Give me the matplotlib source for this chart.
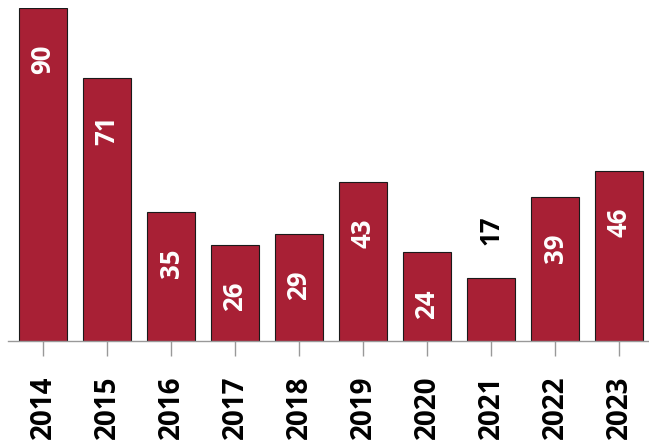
import matplotlib
matplotlib.use("Agg")
import matplotlib.pyplot as plt

years = ["2014", "2015", "2016", "2017", "2018", "2019", "2020", "2021", "2022", "2023"]
counts = [90, 71, 35, 26, 29, 43, 24, 17, 39, 46]
# short bars get their label above the bar instead of inside it
outside = ["2021"]

BAR_COLOR = "#A82035"
plt.rcParams["font.family"] = ["Open Sans", "DejaVu Sans"]

fig = plt.figure(figsize=(6.49, 4.42), dpi=100)
ax = fig.add_axes([7.8 / 649, 101 / 442, 10.02 * 64 / 649, 333 / 442])

x = list(range(len(years)))
ax.bar(x, counts, width=0.75, color=BAR_COLOR, edgecolor="#1a1a1a", linewidth=0.8, zorder=2)

for xi, yr, v in zip(x, years, counts):
    if yr in outside:
        ax.annotate(str(v), (xi, v), xytext=(0, 24), textcoords="offset points",
                    rotation=90, ha="center", va="bottom", color="black",
                    fontsize=18.5, fontweight="bold")
    else:
        ax.annotate(str(v), (xi, v), xytext=(0, -26.5), textcoords="offset points",
                    rotation=90, ha="center", va="top", color="white",
                    fontsize=18.5, fontweight="bold")

ax.set_xlim(-0.55, 9.47)
ax.set_ylim(0, 90)
ax.set_xticks(x)
ax.set_xticklabels(years, rotation=90, fontsize=20, fontweight="bold")
ax.tick_params(axis="x", length=11, width=1, color="#999999", pad=14)
ax.set_yticks([])
for side in ["top", "right", "left"]:
    ax.spines[side].set_visible(False)
ax.spines["bottom"].set_color("#999999")
ax.spines["bottom"].set_linewidth(1)

fig.savefig("out.png", dpi=100)
